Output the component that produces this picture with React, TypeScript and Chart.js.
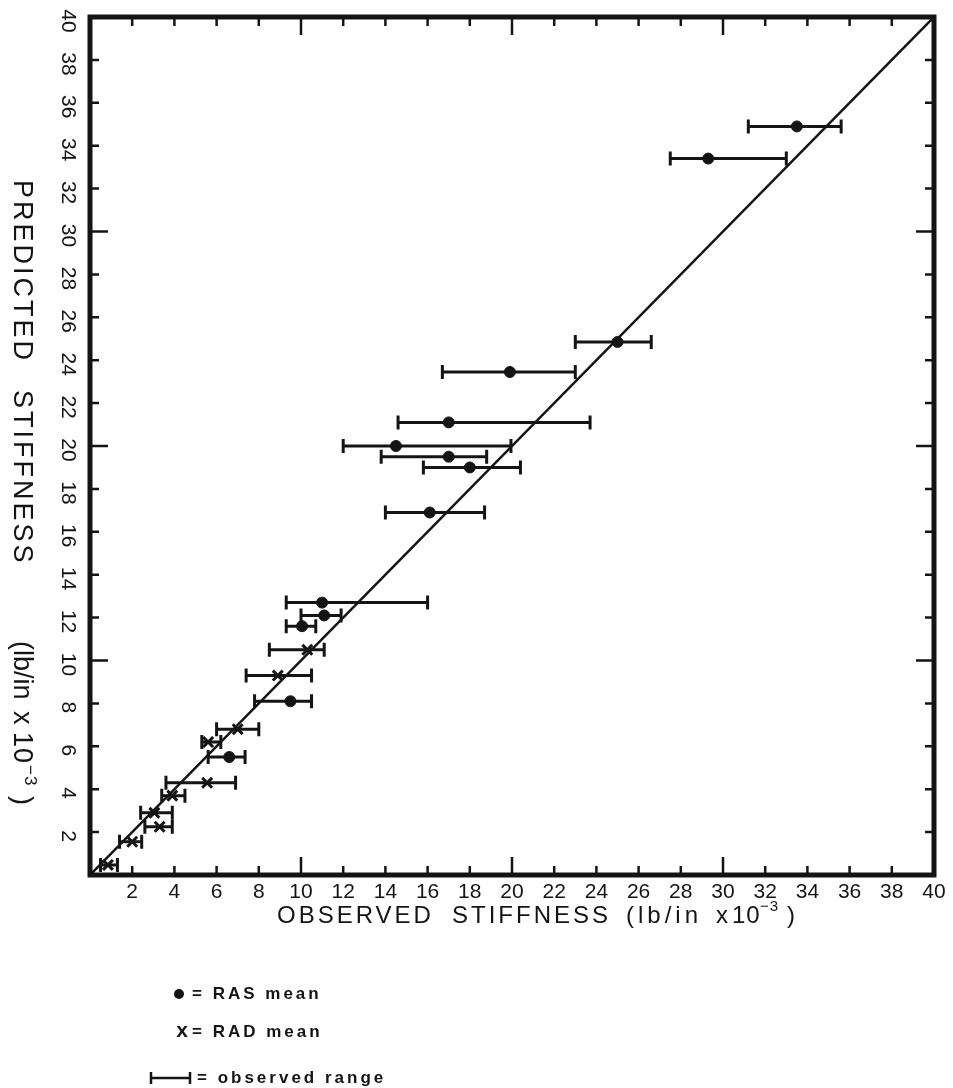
import React, { useEffect, useRef } from "react";
import { Chart, registerables } from "chart.js";

Chart.register(...registerables);

// RAS mean (filled dots): observed (x), predicted (y), observed range low/high
const rasObserved = [33.5, 29.3, 25.0, 19.9, 17.0, 14.5, 17.0, 18.0, 16.1, 11.0, 11.1, 10.05, 9.5, 6.6];
const rasPredicted = [34.9, 33.4, 24.85, 23.45, 21.1, 20.0, 19.5, 19.0, 16.9, 12.7, 12.1, 11.6, 8.1, 5.5];
const rasRangeLow = [31.2, 27.5, 23.0, 16.7, 14.6, 12.0, 13.8, 15.8, 14.0, 9.3, 10.0, 9.3, 7.8, 5.6];
const rasRangeHigh = [35.6, 33.0, 26.6, 23.0, 23.7, 19.95, 18.8, 20.4, 18.7, 16.0, 11.9, 10.7, 10.5, 7.35];

// RAD mean (crosses)
const radObserved = [10.3, 8.9, 7.0, 5.6, 5.55, 3.9, 3.05, 3.3, 2.0, 0.85];
const radPredicted = [10.5, 9.3, 6.8, 6.2, 4.3, 3.7, 2.9, 2.25, 1.55, 0.47];
const radRangeLow = [8.5, 7.4, 6.0, 5.3, 3.6, 3.4, 2.4, 2.6, 1.4, 0.5];
const radRangeHigh = [11.1, 10.5, 8.0, 6.2, 6.9, 4.5, 3.9, 3.9, 2.45, 1.3];

// line of equality
const equalityLine = [0, 40];

// axis ticks
const tickValues = [2, 4, 6, 8, 10, 12, 14, 16, 18, 20, 22, 24, 26, 28, 30, 32, 34, 36, 38, 40];
const tickLabels = ["2", "4", "6", "8", "10", "12", "14", "16", "18", "20", "22", "24", "26", "28", "30", "32", "34", "36", "38", "40"];

const xTitleParts = ["OBSERVED", "STIFFNESS", "(lb/in", "x", "10", "−3", ")"];
const yTitleParts = ["PREDICTED", "STIFFNESS", "(lb/in", "x", "10", "−3", ")"];
const legendLabels = ["= RAS mean", "= RAD mean", "= observed range"];

const INK = "#141414";
const FONT = "'Liberation Sans', Arial, sans-serif";

const drawPlugin = {
  id: "drawing",
  beforeDatasetsDraw(chart: any) {
    const ctx = chart.ctx;
    const xs = chart.scales.x;
    const ys = chart.scales.y;
    ctx.save();
    ctx.strokeStyle = INK;
    ctx.lineWidth = 3;
    ctx.lineCap = "butt";
    const bars = (low: number[], high: number[], pred: number[]) => {
      for (let i = 0; i < low.length; i++) {
        const x1 = xs.getPixelForValue(low[i]);
        const x2 = xs.getPixelForValue(high[i]);
        const y = ys.getPixelForValue(pred[i]);
        ctx.beginPath();
        ctx.moveTo(x1, y);
        ctx.lineTo(x2, y);
        ctx.moveTo(x1, y - 7);
        ctx.lineTo(x1, y + 7);
        ctx.moveTo(x2, y - 7);
        ctx.lineTo(x2, y + 7);
        ctx.stroke();
      }
    };
    bars(rasRangeLow, rasRangeHigh, rasPredicted);
    bars(radRangeLow, radRangeHigh, radPredicted);
    ctx.restore();
  },
  afterDraw(chart: any) {
    const ctx = chart.ctx;
    const xs = chart.scales.x;
    const ys = chart.scales.y;
    const L = xs.getPixelForValue(0);
    const R = xs.getPixelForValue(40);
    const T = ys.getPixelForValue(40);
    const B = ys.getPixelForValue(0);
    ctx.save();
    ctx.strokeStyle = INK;
    ctx.fillStyle = INK;

    // frame
    ctx.lineWidth = 5;
    ctx.lineJoin = "miter";
    ctx.strokeRect(L, T, R - L, B - T);

    // inward ticks
    ctx.lineWidth = 2.5;
    ctx.beginPath();
    tickValues.forEach((v) => {
      if (v >= 40) return;
      const len = v % 10 === 0 ? 18 : 9;
      const px = xs.getPixelForValue(v);
      const py = ys.getPixelForValue(v);
      ctx.moveTo(px, B);
      ctx.lineTo(px, B - len);
      ctx.moveTo(px, T);
      ctx.lineTo(px, T + len);
      ctx.moveTo(L, py);
      ctx.lineTo(L + len, py);
      ctx.moveTo(R, py);
      ctx.lineTo(R - len, py);
    });
    ctx.stroke();

    // tick labels
    ctx.font = `21px ${FONT}`;
    ctx.textAlign = "center";
    ctx.textBaseline = "middle";
    tickValues.forEach((v, i) => {
      const px = xs.getPixelForValue(v);
      ctx.fillText(tickLabels[i], px, B + 17);
    });
    tickValues.forEach((v, i) => {
      const py = ys.getPixelForValue(v);
      ctx.save();
      ctx.translate(L - 22, py + 4);
      ctx.rotate(Math.PI / 2);
      ctx.fillText(tickLabels[i], 0, 0);
      ctx.restore();
    });

    // x title
    ctx.textAlign = "left";
    ctx.textBaseline = "middle";
    const xy = B + 41;
    const xPos = [277, 452, 626, 716, 732, 760, 787];
    const xSpacing = ["3px", "3px", "4px", "0px", "1px", "1px", "0px"];
    xTitleParts.forEach((t, i) => {
      (ctx as any).letterSpacing = xSpacing[i];
      if (i === 5) {
        ctx.font = `15px ${FONT}`;
        ctx.fillText(t, xPos[i], xy - 9);
      } else {
        ctx.font = `24px ${FONT}`;
        ctx.fillText(t, xPos[i], xy);
      }
    });

    // y title (rotated clockwise, reading top to bottom)
    ctx.save();
    ctx.translate(21, 0);
    ctx.rotate(Math.PI / 2);
    const yPos = [180, 390, 641, 711, 732, 765, 796];
    const ySpacing = ["3px", "3px", "0px", "0px", "1px", "1px", "0px"];
    yTitleParts.forEach((t, i) => {
      (ctx as any).letterSpacing = ySpacing[i];
      if (i === 5) {
        ctx.font = `17px ${FONT}`;
        ctx.fillText(t, yPos[i], -9);
      } else {
        ctx.font = `27px ${FONT}`;
        ctx.fillText(t, yPos[i], 0);
      }
    });
    ctx.restore();

    // legend
    (ctx as any).letterSpacing = "3px";
    ctx.font = `bold 17px ${FONT}`;
    ctx.textAlign = "left";
    ctx.textBaseline = "middle";
    const ly = [994, 1032, 1078];
    ctx.beginPath();
    ctx.arc(179, ly[0], 5, 0, Math.PI * 2);
    ctx.fill();
    ctx.fillText(legendLabels[0], 192, ly[0]);
    ctx.save();
    ctx.font = `bold 21px ${FONT}`;
    (ctx as any).letterSpacing = "0px";
    ctx.textAlign = "center";
    ctx.fillText("x", 182, ly[1] - 1);
    ctx.restore();
    ctx.fillText(legendLabels[1], 192, ly[1]);
    ctx.lineWidth = 2.5;
    ctx.beginPath();
    ctx.moveTo(150, ly[2]);
    ctx.lineTo(190, ly[2]);
    ctx.moveTo(151, ly[2] - 6);
    ctx.lineTo(151, ly[2] + 6);
    ctx.moveTo(190, ly[2] - 6);
    ctx.lineTo(190, ly[2] + 6);
    ctx.stroke();
    ctx.fillText(legendLabels[2], 197, ly[2]);
    ctx.restore();
  },
};

export default function App() {
  const ref = useRef<HTMLCanvasElement | null>(null);
  useEffect(() => {
    document.body.style.margin = "0";
    const canvas = ref.current;
    if (!canvas) return;
    const chart = new Chart(canvas, {
      type: "scatter",
      data: {
        datasets: [
          {
            type: "line",
            label: "equality",
            data: equalityLine.map((v) => ({ x: v, y: v })),
            borderColor: INK,
            borderWidth: 2.5,
            pointRadius: 0,
            fill: false,
          } as any,
          {
            label: "RAS mean",
            data: rasObserved.map((x, i) => ({ x, y: rasPredicted[i] })),
            pointStyle: "circle",
            pointRadius: 5.5,
            backgroundColor: INK,
            borderColor: INK,
            borderWidth: 1,
          },
          {
            label: "RAD mean",
            data: radObserved.map((x, i) => ({ x, y: radPredicted[i] })),
            pointStyle: "crossRot",
            pointRadius: 7,
            backgroundColor: INK,
            borderColor: INK,
            borderWidth: 3,
          },
        ],
      },
      options: {
        animation: false,
        responsive: false,
        maintainAspectRatio: false,
        events: [],
        layout: { padding: { left: 90, right: 19, top: 17, bottom: 213 } },
        plugins: { legend: { display: false }, tooltip: { enabled: false } },
        scales: {
          x: { type: "linear", min: 0, max: 40, display: false },
          y: { type: "linear", min: 0, max: 40, display: false },
        },
      },
      plugins: [drawPlugin],
    });
    return () => chart.destroy();
  }, []);
  return (
    <div style={{ position: "absolute", left: 0, top: 0, width: 953, height: 1088, background: "#fff" }}>
      <canvas ref={ref} width={953} height={1088} style={{ display: "block" }} />
    </div>
  );
}
